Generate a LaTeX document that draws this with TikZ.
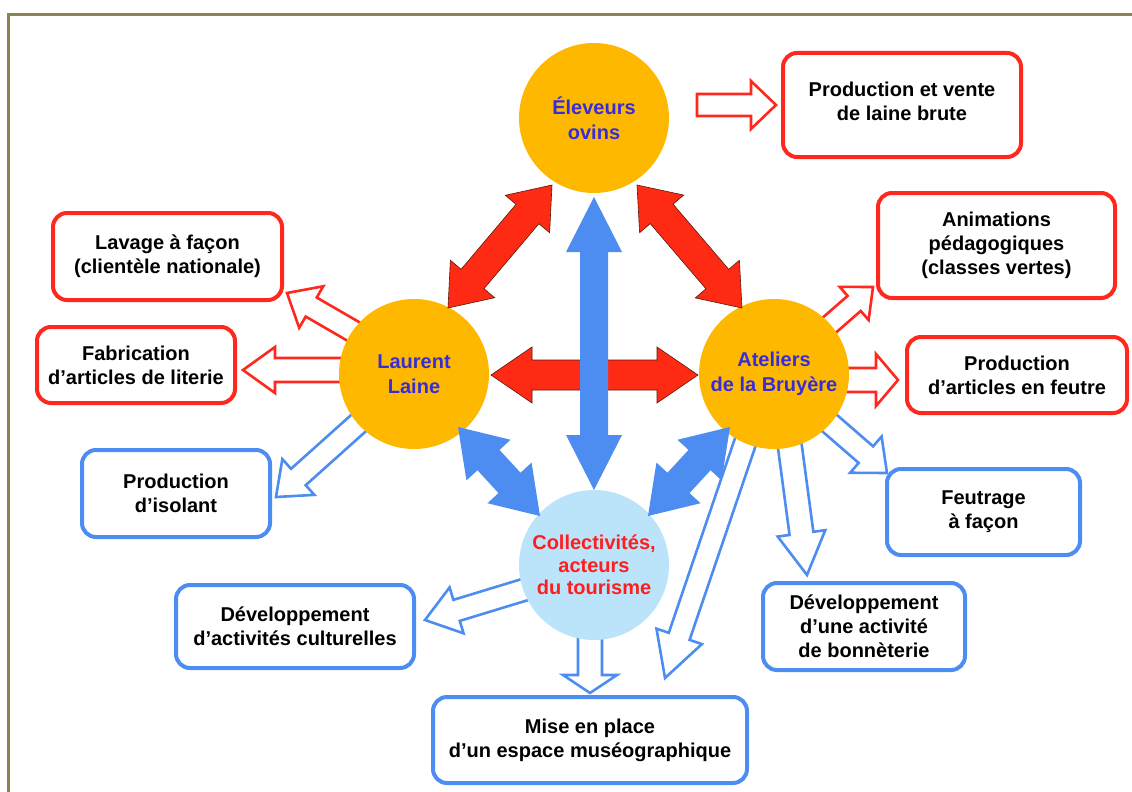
\documentclass[tikz,border=0pt]{standalone}
\usepackage{fontspec}
\setmainfont{Liberation Sans}
\usetikzlibrary{calc}
\definecolor{frameol}{RGB}{140,132,80}
\definecolor{orangec}{RGB}{255,184,0}
\definecolor{lbluec}{RGB}{187,228,250}
\definecolor{redc}{RGB}{255,42,20}
\definecolor{redb}{RGB}{255,40,30}
\definecolor{bluec}{RGB}{77,140,240}
\definecolor{bluetxt}{RGB}{55,45,215}
\definecolor{redtxt}{RGB}{255,30,30}
\definecolor{darkout}{RGB}{90,25,10}
\newcommand\dblarr[6]{%
\path[#1] (#2) -- ($(#2)!#6pt!(#3)!#5pt!90:(#3)$) -- ($(#2)!#6pt!(#3)!#4pt!90:(#3)$)
 -- ($(#3)!#6pt!(#2)!#4pt!-90:(#2)$) -- ($(#3)!#6pt!(#2)!#5pt!-90:(#2)$) -- (#3)
 -- ($(#3)!#6pt!(#2)!#5pt!90:(#2)$) -- ($(#3)!#6pt!(#2)!#4pt!90:(#2)$)
 -- ($(#2)!#6pt!(#3)!#4pt!-90:(#3)$) -- ($(#2)!#6pt!(#3)!#5pt!-90:(#3)$) -- cycle;}
\newcommand\sarr[6]{%
\path[#1] ($(#2)!#4pt!90:(#3)$) -- ($(#3)!#6pt!(#2)!#4pt!-90:(#2)$) -- ($(#3)!#6pt!(#2)!#5pt!-90:(#2)$)
 -- (#3) -- ($(#3)!#6pt!(#2)!#5pt!90:(#2)$) -- ($(#3)!#6pt!(#2)!#4pt!90:(#2)$)
 -- ($(#2)!#4pt!-90:(#3)$) -- cycle;}
\tikzset{
  txt/.style={align=center, font=\fontsize{20pt}{24pt}\selectfont\bfseries, inner sep=0pt},
  box/.style={txt, draw, line width=4pt, rounded corners=14pt, fill=white},
  redbox/.style={box, draw=redb},
  bluebox/.style={box, draw=bluec},
  circ/.style={circle, minimum size=150pt, inner sep=0pt, align=center,
    font=\fontsize{20pt}{25pt}\selectfont\bfseries},
  fatred/.style={fill=redc, draw=darkout, line width=0.6pt, line join=miter},
  fatblue/.style={fill=bluec},
  holred/.style={fill=white, draw=redb, line width=2.6pt, line join=miter},
  holblue/.style={fill=white, draw=bluec, line width=2.6pt, line join=miter},
}
\begin{document}
\begin{tikzpicture}[x=1pt,y=-1pt]
\useasboundingbox (0,0) rectangle (1132,792);
\draw[frameol, line width=3pt] (8,792) -- (8,15) -- (1132,15);
% boxes
\node[redbox, minimum width=238pt, minimum height=104pt] (prodlaine) at (902,105) {};
\node[txt] (prodlainetxt) at (902,101) {Production et vente\\de laine brute};
\node[redbox, minimum width=237pt, minimum height=105pt] (anim) at (996.5,245.5) {Animations\\pédagogiques\\(classes vertes)};
\node[redbox, minimum width=229pt, minimum height=87pt] (lavage) at (167.5,256.5) {Lavage à façon\\(clientèle nationale)};
\node[redbox, minimum width=198pt, minimum height=76pt] (fabri) at (136,365) {Fabrication\\d’articles de literie};
\node[redbox, minimum width=220pt, minimum height=76pt] (feutre) at (1017,375) {Production\\d’articles en feutre};
\node[bluebox, minimum width=188pt, minimum height=87pt] (isolant) at (176,493.5) {Production\\d’isolant};
\node[bluebox, minimum width=193pt, minimum height=86pt] (feutrage) at (983.5,512) {Feutrage\\à façon};
\node[bluebox, minimum width=202pt, minimum height=87pt] (bonn) at (864,626.5) {Développement\\d’une activité\\de bonnèterie};
\node[bluebox, minimum width=238pt, minimum height=83pt] (cult) at (295,626.5) {Développement\\d’activités culturelles};
\node[bluebox, minimum width=314pt, minimum height=86pt] (mise) at (590,740) {Mise en place\\d’un espace muséographique};
% hollow arrow end points
\coordinate (h1a) at (697,105); \coordinate (h1b) at (776,105);
\coordinate (h2a) at (356,333); \coordinate (h2b) at (287,293);
\coordinate (h3a) at (345,370); \coordinate (h3b) at (243,370);
\coordinate (h4a) at (362,420); \coordinate (h4b) at (276,497);
\coordinate (h5a) at (826,328); \coordinate (h5b) at (873,287);
\coordinate (h6a) at (840,380); \coordinate (h6b) at (898,380);
\coordinate (h7a) at (826,420); \coordinate (h7b) at (887,473);
\coordinate (h8a) at (789,440); \coordinate (h8b) at (807,575);
\coordinate (h9a) at (746,440); \coordinate (h9b) at (665,678);
\coordinate (h10a) at (530,588); \coordinate (h10b) at (425,620);
\coordinate (h11a) at (590,630); \coordinate (h11b) at (590,693);
\sarr{holred}{h1a}{h1b}{11}{24}{25}
\sarr{holred}{h2a}{h2b}{11}{24}{28}
\sarr{holred}{h3a}{h3b}{12}{23}{32}
\sarr{holblue}{h4a}{h4b}{11}{24}{30}
\sarr{holred}{h5a}{h5b}{10}{22}{25}
\sarr{holred}{h6a}{h6b}{12}{26}{22}
\sarr{holblue}{h7a}{h7b}{11}{24}{28}
\sarr{holblue}{h8a}{h8b}{12}{24}{42}
\sarr{holblue}{h9a}{h9b}{11}{24}{44}
\sarr{holblue}{h10a}{h10b}{11}{24}{33}
\sarr{holblue}{h11a}{h11b}{12}{27}{18}
% circles
\node[circ, fill=orangec, text=bluetxt] (elev) at (594,118) {Éleveurs\\ovins};
\node[circ, fill=orangec, text=bluetxt] (laurent) at (414,374) {Laurent\\Laine};
\node[circ, fill=orangec, text=bluetxt] (atel) at (774,374) {Ateliers\\de la Bruyère};
\node[circ, fill=lbluec, text=redtxt, font=\fontsize{20pt}{22.5pt}\selectfont\bfseries] (coll) at (594,565) {Collectivités,\\acteurs\\du tourisme};
% fat arrows
\coordinate (r1a) at (448,308); \coordinate (r1b) at (552,185);
\coordinate (r2a) at (742,308); \coordinate (r2b) at (637,185);
\coordinate (r3a) at (491,375); \coordinate (r3b) at (698,375);
\coordinate (b1a) at (594,490); \coordinate (b1b) at (594,197);
\coordinate (b2a) at (458,427); \coordinate (b2b) at (540,516);
\coordinate (b3a) at (730,427); \coordinate (b3b) at (648,516);
\dblarr{fatred}{r1a}{r1b}{15}{29}{38}
\dblarr{fatred}{r2a}{r2b}{15}{29}{38}
\dblarr{fatred}{r3a}{r3b}{15}{28}{41}
\dblarr{fatblue}{b1a}{b1b}{14}{28}{55}
\dblarr{fatblue}{b2a}{b2b}{15}{30}{45}
\dblarr{fatblue}{b3a}{b3b}{15}{30}{45}
\end{tikzpicture}
\end{document}
